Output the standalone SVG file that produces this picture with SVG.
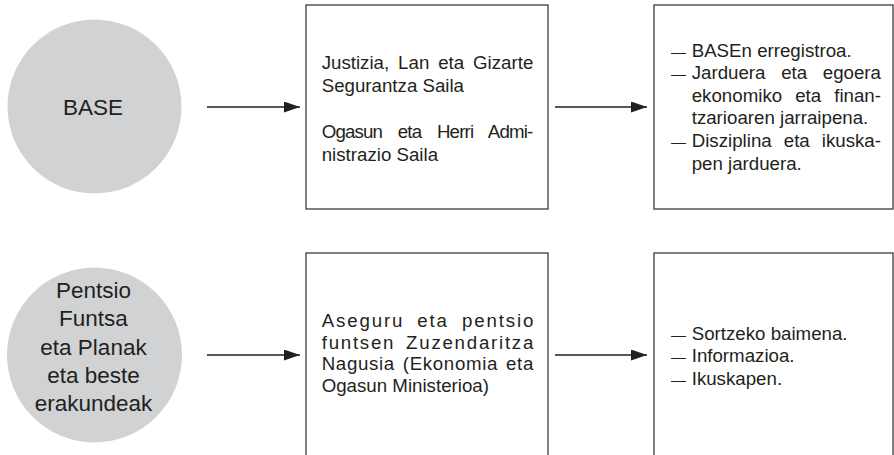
<svg xmlns="http://www.w3.org/2000/svg" width="894" height="455" viewBox="0 0 894 455">
<defs>
<style>
.circ{fill:#d1d2d4;stroke:none}
.box{fill:#ffffff;stroke:#3c3c3c;stroke-width:1.3}
.t{font-family:"Liberation Sans",Arial,Helvetica,sans-serif;font-size:18.7px;fill:#231f20}
.c{font-family:"Liberation Sans",Arial,Helvetica,sans-serif;font-size:22.5px;fill:#231f20;text-anchor:middle}
.dash{font-family:"Liberation Sans",Arial,Helvetica,sans-serif;font-size:15px;fill:#231f20}
.conn{stroke:#231f20;stroke-width:1.3;fill:none;marker-end:url(#ah)}
</style>
<marker id="ah" markerUnits="userSpaceOnUse" markerWidth="17" markerHeight="12" refX="16" refY="5.5" orient="auto">
<path d="M0,0 L16,5.5 L0,11 z" fill="#231f20"/>
</marker>
</defs>
<rect width="894" height="455" fill="#ffffff"/>

<g id="node-base">
<circle class="circ" cx="94.5" cy="106.5" r="87"/>
<text class="c" x="93" y="115" font-size="23">BASE</text>
</g>

<g id="node-saila">
<rect class="box" x="306" y="5" width="242" height="204"/>
<text class="t" x="321.7" y="69" word-spacing="3.7" textLength="211.6" lengthAdjust="spacing">Justizia, Lan eta Gizarte</text>
<text class="t" x="321.7" y="91.5">Segurantza Saila</text>
<text class="t" x="321.7" y="138" word-spacing="11.3" textLength="211.6" lengthAdjust="spacing">Ogasun eta Herri Admi-</text>
<text class="t" x="321.7" y="160.5">nistrazio Saila</text>
</g>

<g id="node-base-tasks">
<rect class="box" x="654" y="5" width="239" height="204"/>
<text class="dash" x="671" y="56.5">—</text>
<text class="t" x="691.7" y="56.5">BASEn erregistroa.</text>
<text class="dash" x="671" y="79.1">—</text>
<text class="t" x="691.7" y="79.1" word-spacing="10.45" textLength="189.3" lengthAdjust="spacing">Jarduera eta egoera</text>
<text class="t" x="691.7" y="101.7" word-spacing="7.85" textLength="189.3" lengthAdjust="spacing">ekonomiko eta finan-</text>
<text class="t" x="691.7" y="124.3">tzarioaren jarraipena.</text>
<text class="dash" x="671" y="146.9">—</text>
<text class="t" x="691.7" y="146.9" word-spacing="6.85" textLength="189.3" lengthAdjust="spacing">Disziplina eta ikuska-</text>
<text class="t" x="691.7" y="169.5">pen jarduera.</text>
</g>

<g id="node-pentsio">
<circle class="circ" cx="94.5" cy="355" r="87.5"/>
<text class="c" x="93.5" y="298">Pentsio</text>
<text class="c" x="93.5" y="326">Funtsa</text>
<text class="c" x="93.5" y="354.5">eta Planak</text>
<text class="c" x="93.5" y="382.5">eta beste</text>
<text class="c" x="93.5" y="410.5">erakundeak</text>
</g>

<g id="node-zuzendaritza">
<rect class="box" x="306" y="253" width="242" height="220"/>
<text class="t" x="321.7" y="327" word-spacing="6" textLength="211.6" lengthAdjust="spacing">Aseguru eta pentsio</text>
<text class="t" x="321.7" y="348.5" word-spacing="4" textLength="211.6" lengthAdjust="spacing">funtsen Zuzendaritza</text>
<text class="t" x="321.7" y="370" word-spacing="2" textLength="211.6" lengthAdjust="spacing">Nagusia (Ekonomia eta</text>
<text class="t" x="321.7" y="391.5">Ogasun Ministerioa)</text>
</g>

<g id="node-pentsio-tasks">
<rect class="box" x="654" y="253" width="239" height="220"/>
<text class="dash" x="671" y="339.5">—</text>
<text class="t" x="691.7" y="339.5">Sortzeko baimena.</text>
<text class="dash" x="671" y="362">—</text>
<text class="t" x="691.7" y="362">Informazioa.</text>
<text class="dash" x="671" y="384.5">—</text>
<text class="t" x="691.7" y="384.5">Ikuskapen.</text>
</g>

<g id="connectors">
<line class="conn" x1="207" y1="107" x2="300" y2="107"/>
<line class="conn" x1="555" y1="107" x2="647" y2="107"/>
<line class="conn" x1="207" y1="355" x2="300" y2="355"/>
<line class="conn" x1="555" y1="355" x2="647" y2="355"/>
</g>
</svg>
